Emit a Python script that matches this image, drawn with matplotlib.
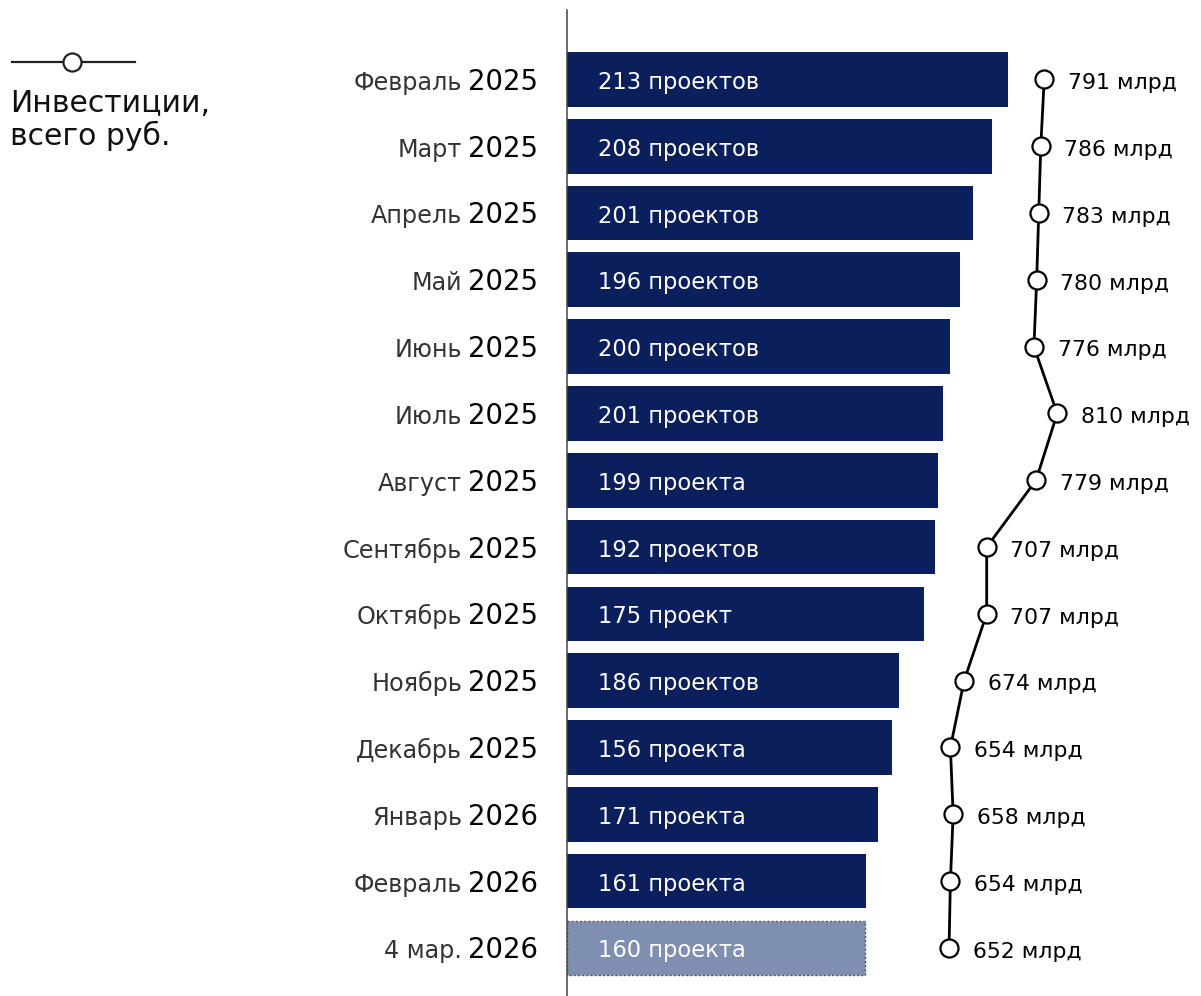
import matplotlib.pyplot as plt
from matplotlib.lines import Line2D

# Data
months = ["Февраль", "Март", "Апрель", "Май", "Июнь", "Июль", "Август",
          "Сентябрь", "Октябрь", "Ноябрь", "Декабрь", "Январь", "Февраль", "4 мар."]
years = ["2025"] * 11 + ["2026"] * 3
project_labels = ["213 проектов", "208 проектов", "201 проектов", "196 проектов",
                  "200 проектов", "201 проектов", "199 проекта", "192 проектов",
                  "175 проект", "186 проектов", "156 проекта", "171 проекта",
                  "161 проекта", "160 проекта"]
# bar lengths as drawn (relative units)
bar_length = [441, 425, 406, 393, 383, 376, 371, 368, 357, 332, 325, 311, 299, 298]
# investments, bln rub
investments = [791, 786, 783, 780, 776, 810, 779, 707, 707, 674, 654, 658, 654, 652]

NAVY = "#0b1f5c"
LIGHT = "#7f8fb1"

plt.rcParams["font.family"] = ["DejaVu Sans"]

fig = plt.figure(figsize=(12.01, 9.96), dpi=100)
ax = fig.add_axes([567 / 1201, 0, 634 / 1201, 986 / 996])

n = len(months)
pos = list(range(n))
colors = [NAVY] * (n - 1) + [LIGHT]
bars = ax.barh(pos, bar_length, height=0.82, color=colors, zorder=2)
bars[-1].set_edgecolor("#555555")
bars[-1].set_linestyle((0, (1.5, 1.5)))
bars[-1].set_linewidth(1.0)

ax.set_xlim(0, 634)
ax.set_ylim(13.72, -1.04)
for s in ["top", "right", "bottom"]:
    ax.spines[s].set_visible(False)
ax.spines["left"].set_color("#444444")
ax.spines["left"].set_linewidth(1.1)
ax.set_xticks([])
ax.set_yticks([])

for i in pos:
    ax.annotate(project_labels[i], xy=(31, i), xytext=(0, -6.8),
                textcoords="offset points", color="white", fontsize=16.3,
                va="baseline", ha="left", zorder=3)
    year_txt = ax.annotate(years[i], xy=(0, i), xytext=(-21, -7.5),
                           textcoords="offset points", ha="right", va="baseline",
                           fontsize=19.8, color="black", annotation_clip=False)
    ax.annotate(months[i], xy=(0, i), xycoords=(year_txt, "data"),
                xytext=(-4, -7.5), textcoords="offset points", ha="right",
                va="baseline", fontsize=17.2, color="#333333",
                annotation_clip=False)

# investment line on its own x scale
ax2 = ax.twiny()
ax2.set_xlim(94, 1020)
ax2.set_ylim(ax.get_ylim())
ax2.axis("off")
ax2.plot(investments, pos, color="black", lw=2.0, marker="o", markersize=13,
         markerfacecolor="white", markeredgecolor="black", markeredgewidth=1.6,
         zorder=4, clip_on=False)
for i in pos:
    ax2.annotate(f"{investments[i]} млрд", xy=(investments[i], i), xytext=(17, -7.0),
                 textcoords="offset points", ha="left", va="baseline",
                 fontsize=15.8, color="black", annotation_clip=False)

# legend in pixel coordinates
leg = fig.add_axes([0, 0, 1, 1], zorder=5)
leg.set_xlim(0, 1201)
leg.set_ylim(996, 0)
leg.axis("off")
leg.add_line(Line2D([12, 135], [62, 62], color="#222222", lw=1.6))
leg.plot([72], [62], marker="o", markersize=13, markerfacecolor="white",
         markeredgecolor="#222222", markeredgewidth=1.6)
leg.text(10, 112, "Инвестиции,", fontsize=21.5, va="baseline", ha="left", color="#111111")
leg.text(10, 145, "всего руб.", fontsize=21.5, va="baseline", ha="left", color="#111111")

fig.savefig("out.png", dpi=100)
